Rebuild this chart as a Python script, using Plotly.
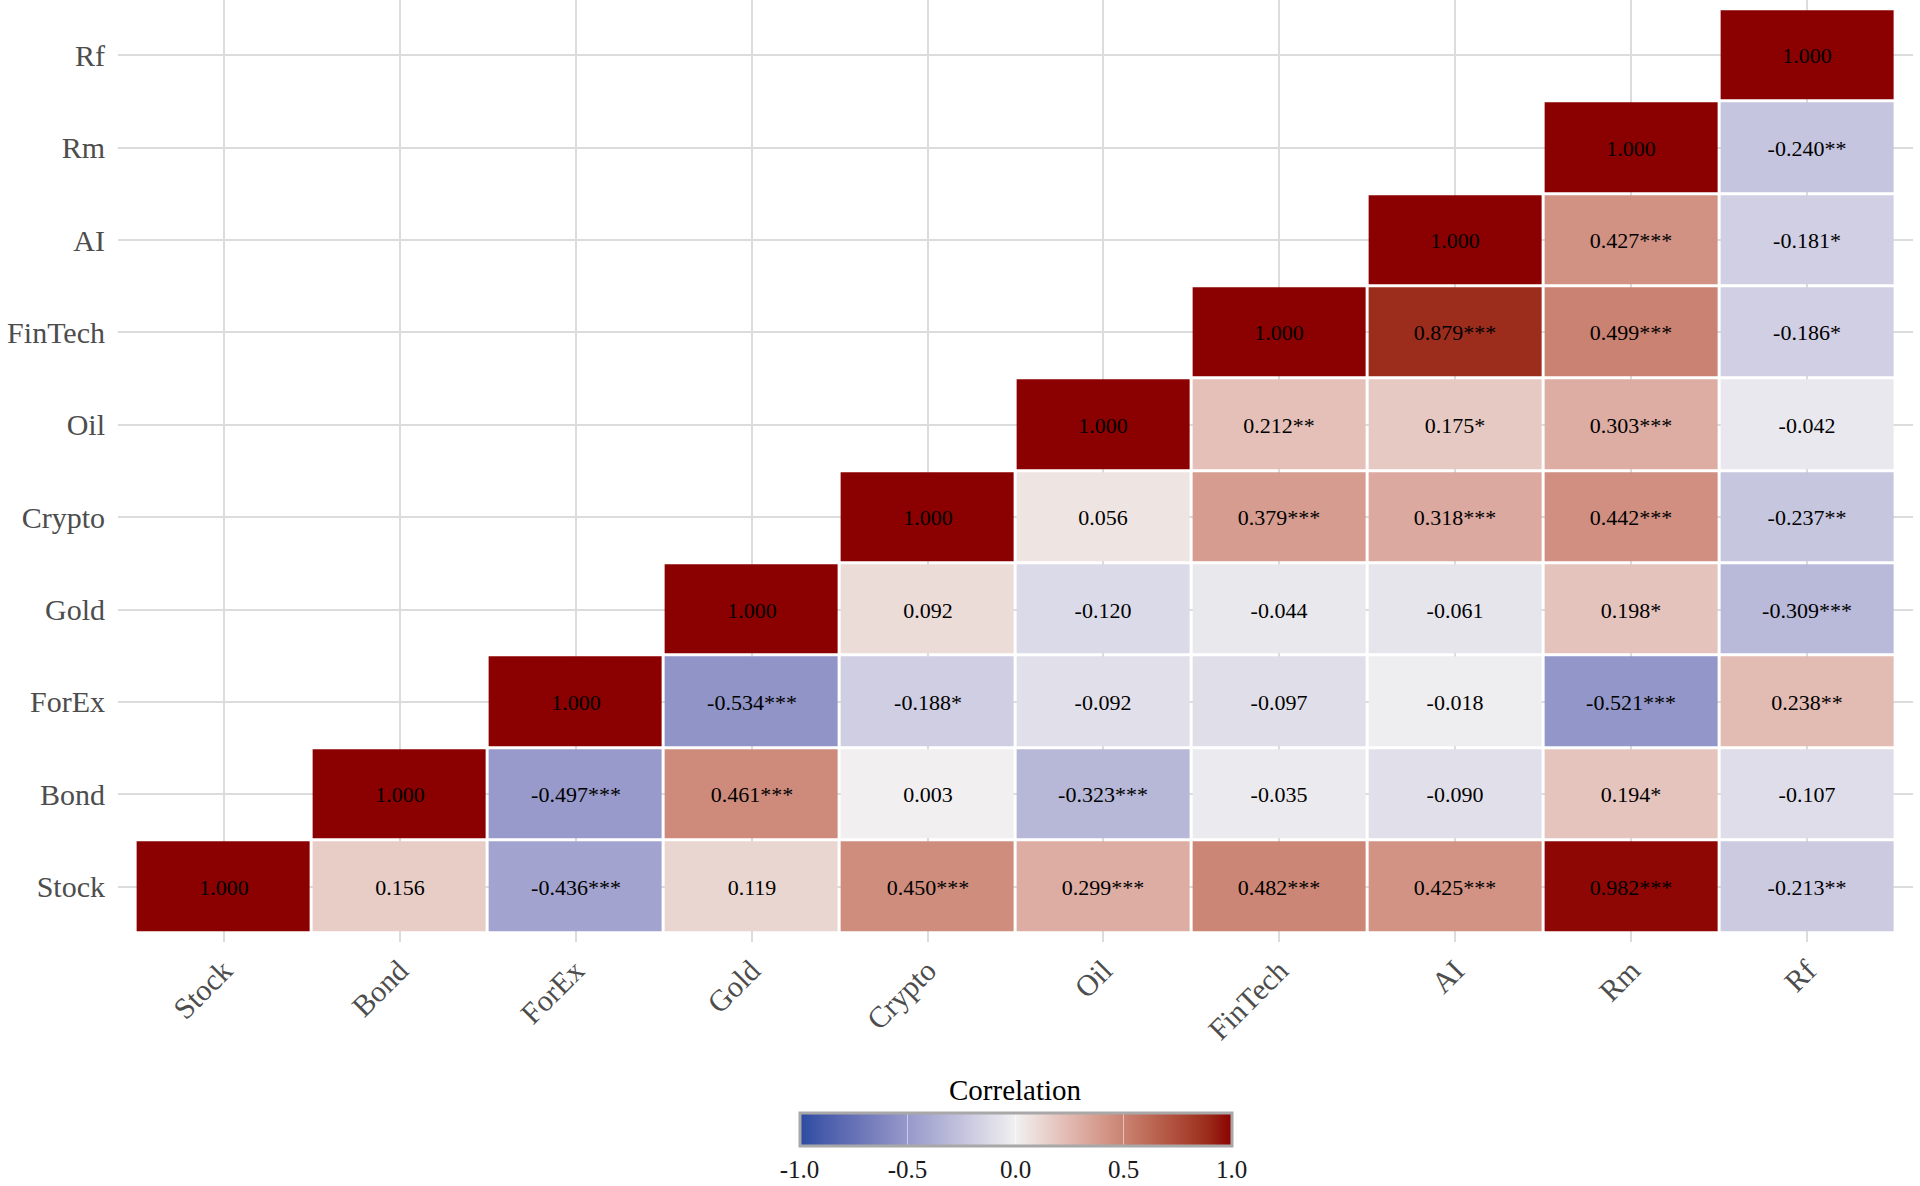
import plotly.graph_objects as go
import numpy as np

variables = ["Stock", "Bond", "ForEx", "Gold", "Crypto", "Oil", "FinTech", "AI", "Rm", "Rf"]

# correlations: row i holds values for columns i..end (upper triangle)
corr_rows = [
    [1.000, 0.156, -0.436, 0.119, 0.450, 0.299, 0.482, 0.425, 0.982, -0.213],
    [1.000, -0.497, 0.461, 0.003, -0.323, -0.035, -0.090, 0.194, -0.107],
    [1.000, -0.534, -0.188, -0.092, -0.097, -0.018, -0.521, 0.238],
    [1.000, 0.092, -0.120, -0.044, -0.061, 0.198, -0.309],
    [1.000, 0.056, 0.379, 0.318, 0.442, -0.237],
    [1.000, 0.212, 0.175, 0.303, -0.042],
    [1.000, 0.879, 0.499, -0.186],
    [1.000, 0.427, -0.181],
    [1.000, -0.240],
    [1.000],
]
star_rows = [
    ["", "", "***", "", "***", "***", "***", "***", "***", "**"],
    ["", "***", "***", "", "***", "", "", "*", ""],
    ["", "***", "*", "", "", "", "***", "**"],
    ["", "", "", "", "", "*", "***"],
    ["", "", "***", "***", "***", "**"],
    ["", "**", "*", "***", ""],
    ["", "***", "***", "*"],
    ["", "***", "*"],
    ["", "**"],
    [""],
]

cbar_ticks = [-1.0, -0.5, 0.0, 0.5, 1.0]
cbar_ticktext = ["-1.0", "-0.5", "0.0", "0.5", "1.0"]
legend_title = "Correlation"

# ---- colour scale: Lab interpolation like ggplot's scale_fill_gradient2 ----
def srgb_to_lab(hexc):
    h = hexc.lstrip("#")
    rgb = np.array([int(h[i:i + 2], 16) / 255 for i in (0, 2, 4)])
    lin = np.where(rgb <= 0.04045, rgb / 12.92, ((rgb + 0.055) / 1.055) ** 2.4)
    M = np.array([[0.4124, 0.3576, 0.1805], [0.2126, 0.7152, 0.0722], [0.0193, 0.1192, 0.9505]])
    xyz = M @ lin / np.array([0.95047, 1.0, 1.08883])
    f = np.where(xyz > 0.008856, np.cbrt(xyz), 7.787 * xyz + 16 / 116)
    return np.array([116 * f[1] - 16, 500 * (f[0] - f[1]), 200 * (f[1] - f[2])])

def lab_to_rgbstr(lab):
    L, a, b = lab
    fy = (L + 16) / 116
    fx = fy + a / 500
    fz = fy - b / 200
    f = np.array([fx, fy, fz])
    xyz = np.where(f ** 3 > 0.008856, f ** 3, (f - 16 / 116) / 7.787) * np.array([0.95047, 1.0, 1.08883])
    Minv = np.array([[3.2406, -1.5372, -0.4986], [-0.9689, 1.8758, 0.0415], [0.0557, -0.2040, 1.0570]])
    lin = Minv @ xyz
    lin = np.clip(lin, 0, 1)
    rgb = np.where(lin <= 0.0031308, 12.92 * lin, 1.055 * lin ** (1 / 2.4) - 0.055)
    rgb = np.clip(np.round(rgb * 255), 0, 255).astype(int)
    return f"rgb({rgb[0]},{rgb[1]},{rgb[2]})"

low, mid, high = "#2A4CA2", "#F1F0F1", "#8B0000"
lab_low, lab_mid, lab_high = srgb_to_lab(low), srgb_to_lab(mid), srgb_to_lab(high)
colorscale = []
n = 20
for k in range(n + 1):
    t = k / n  # 0..1 over -1..1
    if t <= 0.5:
        s = t / 0.5
        lab = lab_low + (lab_mid - lab_low) * s
    else:
        s = (t - 0.5) / 0.5
        lab = lab_mid + (lab_high - lab_mid) * s
    colorscale.append([t, lab_to_rgbstr(lab)])

# ---- build matrix ----
N = len(variables)
z = [[None] * N for _ in range(N)]
txt = [[""] * N for _ in range(N)]
for i in range(N):
    for k, v in enumerate(corr_rows[i]):
        j = i + k
        z[i][j] = v
        txt[i][j] = f"{v:.3f}{star_rows[i][k]}"

serif = "Liberation Serif"

fig = go.Figure(go.Heatmap(
    z=z, x=variables, y=variables, text=txt,
    texttemplate="%{text}",
    textfont=dict(family=serif, size=22, color="black"),
    colorscale=colorscale, zmin=-1, zmax=1,
    xgap=3, ygap=3, hoverongaps=False,
    colorbar=dict(
        orientation="h", x=0.5, xanchor="center",
        yref="paper", y=-0.2977, yanchor="bottom", ypad=4,
        lenmode="pixels", len=452, thickness=33,
        outlinewidth=3, outlinecolor="#A8A8A8",
        tickvals=cbar_ticks, ticktext=cbar_ticktext,
        ticks="inside", ticklen=33, tickwidth=1, tickcolor="rgba(255,255,255,0.5)",
        tickfont=dict(family=serif, size=25, color="#1A1A1A"),
    ),
))

axis_common = dict(
    type="category",
    range=[-0.6, N - 1 + 0.6],
    showgrid=True, gridcolor="#DCDCDC", gridwidth=2,
    ticks="",
    tickfont=dict(family=serif, size=30, color="#4D4D4D"),
    showline=False, zeroline=False, fixedrange=True,
)
fig.update_xaxes(**axis_common, tickangle=-45, ticklabelstandoff=4)
fig.update_yaxes(**axis_common, ticklabelstandoff=12)

fig.add_annotation(
    text=legend_title, xref="paper", yref="paper", x=0.5, y=-0.157,
    xanchor="center", yanchor="middle", showarrow=False,
    font=dict(family=serif, size=29, color="black"),
)

fig.update_layout(
    width=1920, height=1186,
    margin=dict(l=118, r=7, t=0, b=244, autoexpand=False),
    plot_bgcolor="white", paper_bgcolor="white",
)

fig.write_html("out.html", config={"displayModeBar": False},
               post_script="document.body.style.margin='0px';")
